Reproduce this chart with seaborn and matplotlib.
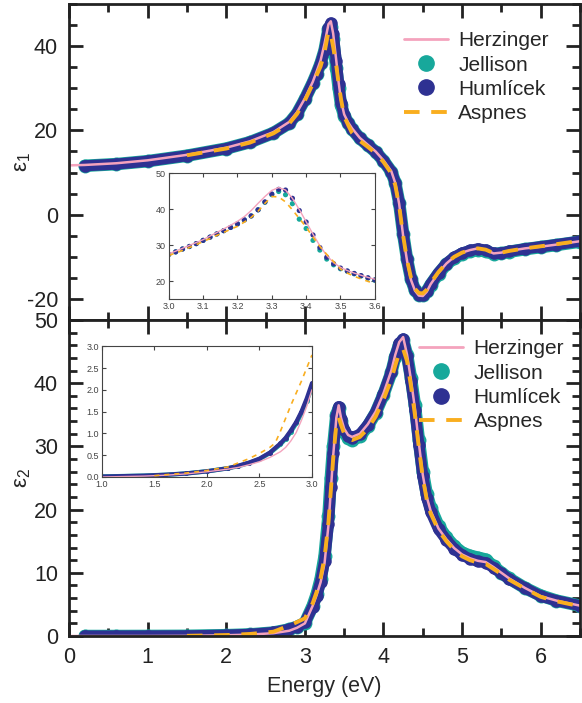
import numpy as np
import pandas as pd
import matplotlib
matplotlib.use('Agg')
import matplotlib.pyplot as plt
import seaborn as sns
from matplotlib.lines import Line2D
from matplotlib.ticker import MultipleLocator

# ---- data ----
nan = np.nan
energy = [0.0, 0.2, 0.6, 1.0, 1.5, 2.0, 2.3, 2.6, 2.8, 2.9, 3.0, 3.1, 3.15, 3.2, 3.25, 3.3,
          3.33, 3.36, 3.4, 3.43, 3.46, 3.5, 3.55, 3.6, 3.7, 3.8, 3.9, 4.0, 4.1, 4.15, 4.2,
          4.25, 4.3, 4.35, 4.4, 4.45, 4.5, 4.55, 4.6, 4.7, 4.8, 4.9, 5.0, 5.1, 5.2, 5.3,
          5.4, 5.5, 5.6, 5.8, 6.0, 6.2, 6.5]

e1_herzinger = [11.7, 11.8, 12.2, 12.9, 14.2, 15.9, 17.4, 19.6, 22.0, 24.3, 27.6, 31.5, 34.0, 36.6, 40.6, 45.2,
                45.9, 43.0, 36.5, 31.3, 27.1, 23.8, 21.9, 20.5, 18.2, 16.6, 15.0, 12.9, 10.3, 7.5, 2.5,
                -5.0, -11.0, -15.5, -18.0, -19.2, -19.3, -18.3, -16.5, -13.8, -11.6, -10.0, -9.0, -8.4, -8.0, -8.3,
                -9.2, -9.0, -8.6, -8.0, -7.6, -7.1, -6.3]
e1_jellison = [nan, 11.6, 12.0, 12.7, 14.0, 15.7, 17.2, 19.4, 21.7, 24.0, 27.4, 31.3, 33.5, 35.9, 39.0, 44.0,
               44.6, 41.6, 34.7, 30.0, 26.1, 23.4, 21.8, 20.3, 18.1, 16.5, 14.9, 12.8, 10.2, 7.6, 2.8,
               -4.5, -10.6, -15.2, -17.9, -19.0, -19.1, -18.2, -16.6, -14.0, -11.8, -10.3, -9.3, -8.7, -8.4, -8.7,
               -9.3, -9.2, -8.8, -8.2, -7.7, -7.2, -6.4]
e1_humlicek = [nan, 11.6, 12.0, 12.7, 14.0, 15.7, 17.2, 19.4, 21.7, 24.0, 27.4, 31.3, 33.5, 35.9, 39.0, 44.2,
               45.5, 43.0, 36.4, 31.0, 26.6, 23.6, 21.8, 20.3, 18.1, 16.5, 14.9, 12.8, 10.2, 7.6, 2.8,
               -4.5, -10.6, -15.2, -17.9, -19.0, -19.1, -18.2, -16.5, -13.8, -11.6, -10.1, -9.1, -8.5, -8.1, -8.4,
               -9.2, -9.1, -8.7, -8.1, -7.6, -7.1, -6.3]
e1_aspnes = [nan, nan, nan, nan, 14.1, 15.7, 17.1, 19.3, 21.6, 23.9, 27.1, 31.0, 33.1, 35.2, 38.5, 43.5,
             42.7, 39.8, 35.3, 31.0, 27.4, 23.3, 21.3, 19.4, 17.5, 16.1, 14.6, 12.5, 9.8, 7.0, 2.0,
             -5.0, -10.8, -15.0, -17.6, -18.6, -18.7, -17.8, -16.2, -13.6, -11.5, -10.0, -9.0, -8.4, -8.0, -8.3,
             -9.1, -9.0, -8.6, -8.0, -7.5, -7.0, -6.2]

e2_herzinger = [0.0, 0.0, 0.0, 0.0, 0.02, 0.12, 0.22, 0.45, 0.83, 1.3, 2.0, 4.8, 6.5, 8.5, 11.5, 17.5,
                23.0, 28.5, 34.5, 36.5, 34.5, 32.8, 31.8, 31.5, 32.0, 33.5, 35.5, 38.4, 42.0, 44.5, 46.5,
                47.3, 44.5, 40.5, 36.0, 30.5, 25.5, 22.0, 19.8, 17.0, 15.3, 13.9, 12.9, 12.3, 11.9, 11.7,
                10.9, 10.0, 9.1, 7.6, 6.3, 5.6, 4.8]
e2_jellison = [nan, 0.0, 0.0, 0.01, 0.03, 0.13, 0.25, 0.55, 1.04, 1.46, 2.05, 4.8, 6.6, 9.0, 12.6, 19.0,
               25.0, 30.0, 35.0, 36.0, 34.0, 32.3, 31.3, 31.0, 31.6, 33.2, 35.3, 38.2, 41.7, 44.2, 46.1,
               46.8, 44.5, 40.8, 36.5, 31.0, 26.0, 22.5, 20.3, 17.4, 15.6, 14.2, 13.2, 12.7, 12.4, 12.1,
               11.0, 10.0, 9.1, 7.6, 6.4, 5.6, 4.8]
e2_humlicek = [nan, 0.0, 0.0, 0.01, 0.03, 0.14, 0.27, 0.56, 1.07, 1.5, 2.15, 4.6, 6.3, 8.6, 11.8, 17.8,
               23.5, 29.0, 34.8, 36.3, 34.3, 32.6, 31.7, 31.4, 31.9, 33.4, 35.4, 38.3, 41.8, 44.3, 46.3,
               47.0, 44.3, 40.3, 35.8, 30.3, 25.3, 21.9, 19.7, 16.9, 15.2, 13.8, 12.8, 12.2, 11.8, 11.6,
               10.8, 9.9, 9.0, 7.6, 6.3, 5.6, 4.8]
e2_aspnes = [nan, nan, nan, nan, 0.03, 0.15, 0.32, 0.68, 1.65, 2.2, 2.8, 5.2, 7.0, 9.2, 12.4, 18.0,
             23.0, 28.0, 33.5, 34.6, 33.4, 32.0, 31.2, 31.0, 31.5, 32.8, 34.7, 37.4, 40.6, 42.8, 44.8,
             45.4, 43.5, 39.5, 35.0, 29.8, 25.0, 21.6, 19.4, 16.7, 15.0, 13.6, 12.6, 12.0, 11.6, 11.4,
             10.6, 9.8, 8.9, 7.5, 6.2, 5.5, 4.7]

# inset 1: eps1 around the E1 peak
zoom1_energy = [3.00, 3.02, 3.04, 3.06, 3.08, 3.10, 3.12, 3.14, 3.16, 3.18, 3.20, 3.22, 3.24, 3.26, 3.28, 3.30,
                3.32, 3.34, 3.36, 3.38, 3.40, 3.42, 3.44, 3.46, 3.48, 3.50, 3.52, 3.54, 3.56, 3.58, 3.60]
zoom1_herzinger = [27.6, 28.3, 29.1, 29.9, 30.7, 31.5, 32.5, 33.5, 34.5, 35.5, 36.6, 37.9, 39.6, 41.6, 43.5, 45.2,
                   46.0, 45.3, 43.0, 39.9, 36.5, 33.0, 29.8, 27.1, 25.1, 23.8, 22.9, 22.2, 21.6, 21.0, 20.5]
zoom1_jellison = [27.4, 28.1, 28.9, 29.6, 30.4, 31.3, 32.2, 33.1, 34.0, 34.9, 35.9, 37.0, 38.1, 39.8, 41.9, 44.0,
                  44.9, 44.0, 41.5, 37.2, 34.6, 31.3, 28.6, 26.1, 24.5, 23.4, 22.7, 22.0, 21.4, 20.8, 20.2]
zoom1_humlicek = [27.4, 28.1, 28.9, 29.6, 30.4, 31.3, 32.2, 33.1, 34.0, 34.9, 35.9, 37.0, 38.1, 39.8, 42.0, 44.2,
                  45.5, 45.3, 43.0, 39.6, 36.4, 32.8, 29.3, 26.6, 24.8, 23.6, 22.8, 22.1, 21.5, 20.9, 20.3]
zoom1_aspnes = [27.1, 27.8, 28.5, 29.3, 30.1, 31.0, 31.8, 32.7, 33.5, 34.4, 35.2, 36.4, 37.7, 39.4, 41.6, 43.5,
                43.4, 42.0, 39.8, 37.4, 35.0, 32.2, 29.6, 27.4, 25.4, 23.3, 22.2, 21.3, 20.6, 19.9, 19.3]

# inset 2: eps2 below the gap
zoom2_energy = [1.0, 1.2, 1.4, 1.6, 1.8, 2.0, 2.2, 2.3, 2.4, 2.5, 2.6, 2.7, 2.75, 2.8, 2.85, 2.9, 2.95, 3.0]
zoom2_herzinger = [0.0, 0.01, 0.02, 0.04, 0.07, 0.12, 0.18, 0.22, 0.28, 0.35, 0.45, 0.58, 0.68, 0.83, 1.02, 1.30, 1.62, 2.0]
zoom2_jellison = [0.01, 0.02, 0.03, 0.05, 0.08, 0.13, 0.20, 0.25, 0.32, 0.41, 0.55, 0.75, 0.88, 1.04, 1.23, 1.46, 1.75, 2.05]
zoom2_humlicek = [0.01, 0.02, 0.03, 0.05, 0.08, 0.13, 0.20, 0.26, 0.33, 0.42, 0.56, 0.77, 0.90, 1.07, 1.26, 1.50, 1.80, 2.15]
zoom2_aspnes_energy = [1.5, 1.6, 1.8, 2.0, 2.2, 2.4, 2.5, 2.6, 2.65, 2.7, 2.8, 2.9, 3.0]
zoom2_aspnes = [0.03, 0.05, 0.09, 0.15, 0.23, 0.42, 0.54, 0.68, 0.78, 1.05, 1.65, 2.2, 2.8]

labels = ['Herzinger', 'Jellison', 'Humlícek', 'Aspnes']
c_herz = '#F4A3BD'
c_jell = '#17A89B'
c_huml = '#2E3192'
c_asp = '#F9AE1F'

sns.set_theme(style='ticks')
plt.rcParams['font.family'] = ['Liberation Sans', 'DejaVu Sans']
plt.rcParams['mathtext.fontset'] = 'custom'
plt.rcParams['mathtext.rm'] = 'Liberation Sans'
plt.rcParams['mathtext.it'] = 'Liberation Sans'
plt.rcParams['axes.unicode_minus'] = False

fig = plt.figure(figsize=(5.82, 7.03), dpi=100)
ax1 = fig.add_axes([0.1186, 0.5448, 0.878, 0.4495])
ax2 = fig.add_axes([0.1186, 0.0953, 0.878, 0.4495])


def draw_main(ax, herz, jell, huml, asp):
    df = pd.DataFrame({'E': energy, 'herz': herz, 'jell': jell, 'huml': huml, 'asp': asp})
    sns.lineplot(data=df, x='E', y='jell', ax=ax, color=c_jell, lw=9, marker='o', ms=10,
                 mec='none', estimator=None, sort=False)
    sns.lineplot(data=df, x='E', y='huml', ax=ax, color=c_huml, lw=8, marker='o', ms=9,
                 mec='none', estimator=None, sort=False)
    sns.lineplot(data=df, x='E', y='herz', ax=ax, color=c_herz, lw=1.8, estimator=None, sort=False)
    sns.lineplot(data=df, x='E', y='asp', ax=ax, color=c_asp, lw=2.8, estimator=None, sort=False,
                 dashes=False, linestyle=(0, (4, 3)))


def style_main(ax):
    ax.set_xlim(0, 6.5)
    ax.xaxis.set_major_locator(MultipleLocator(1))
    ax.xaxis.set_minor_locator(MultipleLocator(0.5))
    ax.tick_params(which='both', direction='in', top=True, right=True, width=2, labelsize=15.5,
                   colors='#222222', pad=8)
    ax.tick_params(which='major', length=10)
    ax.tick_params(which='minor', length=6)
    for s in ax.spines.values():
        s.set_linewidth(2)
        s.set_color('#222222')


def legend(ax, anchor):
    handles = [Line2D([], [], color=c_herz, lw=2),
               Line2D([], [], color=c_jell, marker='o', ms=11, ls='none'),
               Line2D([], [], color=c_huml, marker='o', ms=11, ls='none'),
               Line2D([], [], color=c_asp, lw=2.8, ls=(0, (4, 3)))]
    ax.legend(handles, labels, loc='upper right', bbox_to_anchor=anchor, frameon=False, fontsize=15,
              handlelength=2.1, handletextpad=0.5, labelspacing=0.25, borderaxespad=0)


draw_main(ax1, e1_herzinger, e1_jellison, e1_humlicek, e1_aspnes)
style_main(ax1)
ax1.set_ylim(-25, 50)
ax1.yaxis.set_minor_locator(MultipleLocator(5))
ax1.set_yticks([-20, 0, 20, 40])
ax1.tick_params(labelbottom=False)
ax1.set_xlabel('')
ax1.set_ylabel('ε$_1$', fontsize=16)
ax1.yaxis.set_label_coords(-0.07, 0.5)
legend(ax1, (0.955, 0.94))

draw_main(ax2, e2_herzinger, e2_jellison, e2_humlicek, e2_aspnes)
style_main(ax2)
ax2.set_ylim(0, 50)
ax2.yaxis.set_major_locator(MultipleLocator(10))
ax2.yaxis.set_minor_locator(MultipleLocator(2))
ax2.set_xlabel('Energy (eV)', fontsize=15.5, labelpad=6)
ax2.set_ylabel('ε$_2$', fontsize=16)
ax2.yaxis.set_label_coords(-0.07, 0.5)
legend(ax2, (0.985, 0.965))


def style_inset(ax):
    ax.tick_params(which='both', direction='in', top=True, right=True, length=3, width=0.8,
                   labelsize=6.5, colors='#444444', pad=2)
    for s in ax.spines.values():
        s.set_linewidth(0.8)
        s.set_color('#444444')
    ax.set_xlabel('')
    ax.set_ylabel('')


# inset 1
in1 = fig.add_axes([0.290, 0.5747, 0.354, 0.179])
z1 = pd.DataFrame({'E': zoom1_energy, 'herz': zoom1_herzinger, 'jell': zoom1_jellison,
                   'huml': zoom1_humlicek, 'asp': zoom1_aspnes})
sns.lineplot(data=z1, x='E', y='herz', ax=in1, color=c_herz, lw=1.0, estimator=None, sort=False)
sns.scatterplot(data=z1, x='E', y='jell', ax=in1, color=c_jell, s=14, edgecolor='none')
sns.scatterplot(data=z1, x='E', y='huml', ax=in1, color=c_huml, s=14, edgecolor='none')
sns.lineplot(data=z1, x='E', y='asp', ax=in1, color=c_asp, lw=1.2, estimator=None, sort=False,
             linestyle=(0, (3, 3)))
in1.set_xlim(3.0, 3.6)
in1.set_ylim(15, 50)
in1.set_xticks([3.0, 3.1, 3.2, 3.3, 3.4, 3.5, 3.6])
in1.set_yticks([20, 30, 40, 50])
style_inset(in1)

# inset 2
in2 = fig.add_axes([0.175, 0.3215, 0.361, 0.186])
z2 = pd.DataFrame({'E': zoom2_energy, 'herz': zoom2_herzinger, 'jell': zoom2_jellison, 'huml': zoom2_humlicek})
z2a = pd.DataFrame({'E': zoom2_aspnes_energy, 'asp': zoom2_aspnes})
sns.lineplot(data=z2, x='E', y='jell', ax=in2, color=c_jell, lw=3.2, marker='o', ms=3.5, mec='none',
             estimator=None, sort=False)
sns.lineplot(data=z2, x='E', y='huml', ax=in2, color=c_huml, lw=3.0, marker='o', ms=3.5, mec='none',
             estimator=None, sort=False)
sns.lineplot(data=z2, x='E', y='herz', ax=in2, color=c_herz, lw=1.0, estimator=None, sort=False)
sns.lineplot(data=z2a, x='E', y='asp', ax=in2, color=c_asp, lw=1.2, estimator=None, sort=False,
             linestyle=(0, (3, 3)))
in2.set_xlim(1.0, 3.0)
in2.set_ylim(0, 3.0)
in2.set_xticks([1.0, 1.5, 2.0, 2.5, 3.0])
in2.set_yticks([0.0, 0.5, 1.0, 1.5, 2.0, 2.5, 3.0])
in2.xaxis.set_major_formatter('{x:.1f}')
in2.yaxis.set_major_formatter('{x:.1f}')
style_inset(in2)

fig.savefig('out.png', dpi=100)
